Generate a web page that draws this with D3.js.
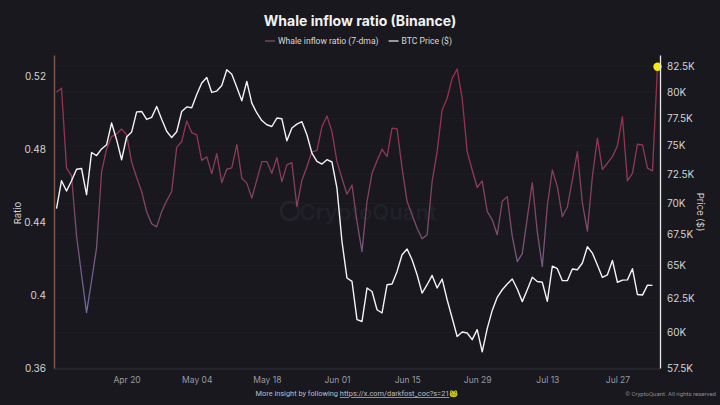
<!DOCTYPE html>
<html>
<head>
<meta charset="utf-8">
<script src="https://cdn.jsdelivr.net/npm/d3@7"></script>
<style>
  html, body { margin: 0; padding: 0; background: #18181e; }
  svg { display: block; font-family: Inter, "Noto Sans", sans-serif; }
</style>
</head>
<body>
<svg id="chart" width="720" height="405"></svg>
<script>
// daily values, starting Apr 6
var startDate = new Date(2024, 3, 6);

var whaleRatio = [
  0.5112, 0.5133, 0.4696, 0.4653, 0.4324, 0.4111, 0.3903, 0.4078, 0.4258, 0.4675,
  0.4800, 0.4868, 0.4883, 0.4910, 0.4877, 0.4729, 0.4644, 0.4567, 0.4456, 0.4390,
  0.4373, 0.4457, 0.4516, 0.4567, 0.4809, 0.4841, 0.4954, 0.4890, 0.4877, 0.4737,
  0.4757, 0.4665, 0.4775, 0.4616, 0.4689, 0.4696, 0.4824, 0.4640, 0.4613, 0.4531,
  0.4631, 0.4731, 0.4731, 0.4667, 0.4753, 0.4621, 0.4713, 0.4725, 0.4485, 0.4628,
  0.4703, 0.4786, 0.4791, 0.4922, 0.4981, 0.4895, 0.4731, 0.4640, 0.4552, 0.4603,
  0.4402, 0.4238, 0.4512, 0.4667, 0.4735, 0.4799, 0.4758, 0.4914, 0.4910, 0.4695,
  0.4512, 0.4439, 0.4366, 0.4308, 0.4330, 0.4621, 0.4786, 0.5014, 0.5078, 0.5187,
  0.5238, 0.5078, 0.4786, 0.4685, 0.4589, 0.4625, 0.4458, 0.4412, 0.4330, 0.4514,
  0.4539, 0.4321, 0.4183, 0.4227, 0.4423, 0.4616, 0.4346, 0.4156, 0.4488, 0.4685,
  0.4594, 0.4430, 0.4482, 0.4631, 0.4786, 0.4505, 0.4350, 0.4649, 0.4859, 0.4688,
  0.4722, 0.4758, 0.4818, 0.4977, 0.4625, 0.4667, 0.4826, 0.4822, 0.4695, 0.4680,
  0.5251
];

// BTC price in thousands of $
var btcPrice = [
  69.58, 71.93, 71.05, 71.93, 72.92, 72.99, 70.74, 74.40, 74.13, 74.72,
  75.09, 77.07, 75.55, 73.76, 75.79, 76.24, 78.10, 78.14, 77.40, 77.59,
  78.61, 77.42, 76.32, 75.74, 76.27, 78.14, 78.57, 78.49, 79.75, 80.84,
  81.38, 79.94, 80.07, 80.60, 82.14, 81.70, 80.44, 79.15, 81.00, 78.93,
  78.00, 77.30, 76.91, 76.75, 77.53, 77.46, 75.45, 76.61, 76.97, 77.19,
  76.00, 74.35, 73.61, 73.38, 73.76, 73.56, 71.30, 66.89, 64.03, 63.77,
  60.92, 60.79, 63.27, 63.01, 61.65, 61.41, 63.52, 63.58, 64.54, 65.84,
  66.29, 65.45, 64.28, 62.89, 63.52, 64.23, 63.27, 63.95, 62.39, 61.04,
  59.71, 60.03, 59.96, 59.48, 60.20, 58.62, 60.27, 61.60, 62.57, 63.14,
  63.58, 63.96, 63.20, 62.25, 63.14, 64.09, 63.77, 63.71, 62.27, 64.94,
  64.75, 63.83, 63.83, 64.73, 64.67, 65.19, 66.47, 65.97, 65.04, 64.08,
  64.28, 65.39, 63.71, 63.87, 63.89, 64.75, 62.78, 62.74, 63.49, 63.47
];

var ratioTicks = [0.36, 0.4, 0.44, 0.48, 0.52];
var priceTicks = [57.5, 60, 62.5, 65, 67.5, 70, 72.5, 75, 77.5, 80, 82.5];
var dateTicks = ["2024-04-20", "2024-05-04", "2024-05-18", "2024-06-01",
                 "2024-06-15", "2024-06-29", "2024-07-13", "2024-07-27"];

var W = 720, H = 405;
var plot = {left: 54, right: 660, top: 55, bottom: 368};
var font = "Inter, 'Noto Sans', sans-serif";

var svg = d3.select("#chart");

var x = d3.scaleTime()
    .domain([new Date(2024, 3, 5, 12), new Date(2024, 7, 4, 12)])
    .range([plot.left, plot.right]);

var yRatio = d3.scaleLinear()
    .domain([0.36, 0.5315])
    .range([plot.bottom, plot.top]);

var yPrice = d3.scaleLog()
    .domain([57.5, 83.6])
    .range([plot.bottom, plot.top]);

function dayOf(i) { return d3.timeDay.offset(startDate, i); }

// background
svg.append("rect").attr("width", W).attr("height", H).attr("fill", "#18181e");

// very faint grid on price ticks
svg.append("g")
  .selectAll("line")
  .data(priceTicks)
  .enter().append("line")
    .attr("x1", plot.left).attr("x2", plot.right)
    .attr("y1", function(d) { return yPrice(d); })
    .attr("y2", function(d) { return yPrice(d); })
    .attr("stroke", "#1e1e25")
    .attr("stroke-width", 1);

// watermark
var wm = svg.append("g").attr("transform", "translate(360,212)");
wm.append("circle").attr("cx", -70).attr("cy", -1).attr("r", 9)
    .attr("fill", "none").attr("stroke", "#222229").attr("stroke-width", 3);
wm.append("text")
    .attr("x", 8).attr("dy", "0.35em")
    .attr("text-anchor", "middle")
    .attr("font-size", 22)
    .attr("font-weight", 600)
    .attr("fill", "#212128")
    .text("CryptoQuant");

// title + legend
svg.append("text")
    .attr("x", 360).attr("y", 26)
    .attr("text-anchor", "middle")
    .attr("font-size", 14)
    .attr("font-weight", 700)
    .attr("fill", "#f2f2f2")
    .text("Whale inflow ratio (Binance)");

var legendItems = [
  {label: "Whale inflow ratio (7-dma)", color: "#8e5466"},
  {label: "BTC Price ($)", color: "#f0f0f0"}
];
var legend = svg.append("g")
    .attr("font-size", 8.6)
    .attr("fill", "#d8d8d8")
    .style("font-family", "Roboto, 'Noto Sans', sans-serif");
var lx = 265;
legendItems.forEach(function(it) {
  legend.append("line").attr("x1", lx).attr("x2", lx + 10).attr("y1", 41).attr("y2", 41)
      .attr("stroke", it.color).attr("stroke-width", 1.2);
  var t = legend.append("text").attr("x", lx + 13).attr("y", 44).text(it.label);
  lx += 13 + t.node().getComputedTextLength() + 10;
});

// gradient for ratio line, red when high, blue-grey when low
var defs = svg.append("defs");
var grad = defs.append("linearGradient")
    .attr("id", "ratioGrad")
    .attr("gradientUnits", "userSpaceOnUse")
    .attr("x1", 0).attr("x2", 0)
    .attr("y1", yRatio(0.50)).attr("y2", yRatio(0.39));
grad.append("stop").attr("offset", "0%").attr("stop-color", "#9c2f4d");
grad.append("stop").attr("offset", "45%").attr("stop-color", "#84435d");
grad.append("stop").attr("offset", "100%").attr("stop-color", "#6a6ea4");

// bottom axis baseline
svg.append("line")
    .attr("x1", plot.left).attr("x2", plot.right)
    .attr("y1", plot.bottom + 1).attr("y2", plot.bottom + 1)
    .attr("stroke", "#303038");

// lines
var ratioLine = d3.line()
    .x(function(d, i) { return x(dayOf(i)); })
    .y(function(d) { return yRatio(d); });

var priceLine = d3.line()
    .x(function(d, i) { return x(dayOf(i)); })
    .y(function(d) { return yPrice(d); });

svg.append("path")
    .datum(whaleRatio)
    .attr("d", ratioLine)
    .attr("fill", "none")
    .attr("stroke", "url(#ratioGrad)")
    .attr("stroke-width", 1.3)
    .attr("stroke-linejoin", "round");

svg.append("path")
    .datum(btcPrice)
    .attr("d", priceLine)
    .attr("fill", "none")
    .attr("stroke", "#f4f4f4")
    .attr("stroke-width", 1.4)
    .attr("stroke-linejoin", "round");

// last ratio point marker
var last = whaleRatio.length - 1;
svg.append("circle")
    .attr("cx", x(dayOf(last)))
    .attr("cy", yRatio(whaleRatio[last]))
    .attr("r", 4.2)
    .attr("fill", "#f5ec0f");

// axes
var leftAxis = svg.append("g")
    .attr("transform", "translate(" + plot.left + ",0)")
    .call(d3.axisLeft(yRatio).tickValues(ratioTicks).tickSize(0).tickPadding(8)
      .tickFormat(function(d) { return String(+d.toFixed(2)); }));
leftAxis.select(".domain").attr("stroke", "#7d5645").attr("stroke-width", 1.5);
leftAxis.selectAll("text").attr("fill", "#d4d4d4").attr("font-size", 10)
    .style("font-family", font);

var rightAxis = svg.append("g")
    .attr("transform", "translate(" + plot.right + ",0)")
    .call(d3.axisRight(yPrice).tickValues(priceTicks).tickSize(0).tickPadding(7)
      .tickFormat(function(d) { return d + "K"; }));
rightAxis.select(".domain").attr("stroke", "#e8e8e8").attr("stroke-width", 1.3);
rightAxis.selectAll("text").attr("fill", "#d4d4d4").attr("font-size", 10)
    .style("font-family", font);

var bottomAxis = svg.append("g")
    .attr("transform", "translate(0," + plot.bottom + ")")
    .call(d3.axisBottom(x)
      .tickValues(dateTicks.map(function(s) { return d3.timeParse("%Y-%m-%d")(s); }))
      .tickSize(0).tickPadding(9)
      .tickFormat(d3.timeFormat("%b %d")));
bottomAxis.select(".domain").remove();
bottomAxis.selectAll("text").attr("fill", "#9a9aa2").attr("font-size", 8.5)
    .style("font-family", font);

// axis titles
svg.append("text")
    .attr("transform", "translate(21,213) rotate(-90)")
    .attr("text-anchor", "middle")
    .attr("font-size", 9.5)
    .attr("fill", "#d4d4d4")
    .text("Ratio");

svg.append("text")
    .attr("transform", "translate(697,212) rotate(90)")
    .attr("text-anchor", "middle")
    .attr("font-size", 9.5)
    .attr("fill", "#d4d4d4")
    .text("Price ($)");

// footer
var foot = svg.append("text")
    .attr("x", 357).attr("y", 396)
    .attr("text-anchor", "middle")
    .attr("font-size", 7.4)
    .attr("fill", "#bdbdc4")
    .style("font-family", "Roboto, 'Noto Sans', sans-serif");
foot.append("tspan").text("More insight by following ");
foot.append("tspan").attr("text-decoration", "underline").text("https://x.com/darkfost_coc?s=21");
foot.append("tspan").text("\uD83D\uDC38");

svg.append("text")
    .attr("x", 716).attr("y", 396)
    .attr("text-anchor", "end")
    .attr("font-size", 6)
    .attr("fill", "#8c8c94")
    .style("font-family", "Roboto, 'Noto Sans', sans-serif")
    .text("\u00A9 CryptoQuant. All rights reserved");
</script>
</body>
</html>
